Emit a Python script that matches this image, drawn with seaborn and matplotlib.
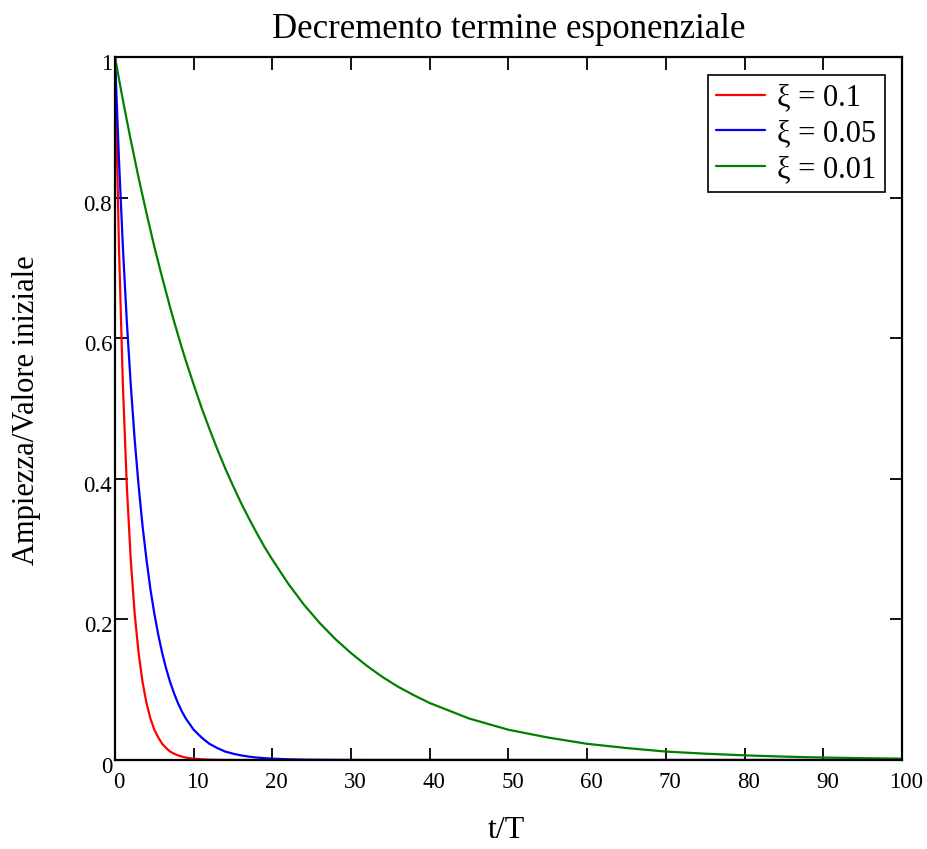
import numpy as np
import pandas as pd
import matplotlib
matplotlib.use("Agg")
import matplotlib.pyplot as plt
import matplotlib.transforms as mtransforms
import seaborn as sns

# Values read (estimated) from the reference
t_vals = [0, 0.5, 1, 1.5, 2, 2.5, 3, 3.5, 4, 4.5, 5, 5.5, 6, 6.5, 7, 7.5, 8, 8.5,
          9, 9.5, 10,
          11, 12, 13, 14, 15, 16, 17, 18, 19, 20,
          22, 24, 26, 28, 30, 32, 34, 36, 38, 40,
          45, 50, 55, 60, 65, 70, 75, 80, 85, 90, 95, 100]
red_vals = [1.000, 0.730, 0.534, 0.390, 0.285, 0.208, 0.152, 0.111, 0.081, 0.059,
            0.043, 0.032, 0.023, 0.017, 0.012, 0.009, 0.0066, 0.0048, 0.0035,
            0.0026, 0.0019,
            0.0010, 0.0005, 0.0003, 0.00015, 0.0001, 0.0, 0.0, 0.0, 0.0, 0.0,
            0.0, 0.0, 0.0, 0.0, 0.0, 0.0, 0.0, 0.0, 0.0, 0.0,
            0.0, 0.0, 0.0, 0.0, 0.0, 0.0, 0.0, 0.0, 0.0, 0.0, 0.0, 0.0]
blue_vals = [1.000, 0.855, 0.730, 0.624, 0.534, 0.456, 0.390, 0.333, 0.285, 0.243,
             0.208, 0.178, 0.152, 0.130, 0.111, 0.095, 0.081, 0.069, 0.059,
             0.051, 0.043,
             0.032, 0.023, 0.017, 0.012, 0.009, 0.0066, 0.0048, 0.0035, 0.0026, 0.0019,
             0.001, 0.0005, 0.0003, 0.00015, 0.0001, 0.0, 0.0, 0.0, 0.0, 0.0,
             0.0, 0.0, 0.0, 0.0, 0.0, 0.0, 0.0, 0.0, 0.0, 0.0, 0.0, 0.0]
green_vals = [1.000, 0.969, 0.939, 0.910, 0.882, 0.855, 0.828, 0.803, 0.778, 0.754,
              0.730, 0.708, 0.686, 0.665, 0.644, 0.624, 0.605, 0.586, 0.568,
              0.551, 0.534,
              0.501, 0.471, 0.442, 0.415, 0.390, 0.366, 0.344, 0.323, 0.303, 0.285,
              0.251, 0.221, 0.195, 0.172, 0.152, 0.134, 0.118, 0.104, 0.092, 0.081,
              0.059, 0.043, 0.032, 0.023, 0.017, 0.012, 0.009, 0.0066, 0.0048,
              0.0035, 0.0026, 0.0019]
series_labels = ["ξ = 0.1", "ξ = 0.05", "ξ = 0.01"]
x_ticks = [0, 10, 20, 30, 40, 50, 60, 70, 80, 90, 100]
y_ticks = [0, 0.2, 0.4, 0.6, 0.8, 1]
y_ticklabels = ["0", "0.2", "0.4", "0.6", "0.8", "1"]

df = pd.concat([
    pd.DataFrame({"t": t_vals, "y": vals, "serie": lab})
    for vals, lab in zip([red_vals, blue_vals, green_vals], series_labels)
])

sns.set_style("ticks")
plt.rcParams["font.family"] = ["Liberation Serif", "DejaVu Serif"]
plt.rcParams["text.color"] = "black"
plt.rcParams["axes.labelcolor"] = "black"

fig = plt.figure(figsize=(9.28, 8.49), dpi=100)
ax = fig.add_axes([115 / 928, 1 - 760 / 849, (902 - 115) / 928, (760 - 57) / 849])

sns.lineplot(data=df, x="t", y="y", hue="serie", hue_order=series_labels,
             palette=["#ff0000", "#0000ff", "#008000"], linewidth=1.6,
             ax=ax, sort=False)

ax.set_xlim(0, 100)
ax.set_ylim(0, 1)
ax.set_xticks(x_ticks)
ax.set_xticklabels([str(v) for v in x_ticks])
ax.set_yticks(y_ticks)
ax.set_yticklabels(y_ticklabels)
ax.tick_params(direction="in", length=9, width=1.3, top=True, right=True,
               labelsize=16.5, colors="black")
ax.tick_params(axis="x", pad=9)
ax.tick_params(axis="y", pad=2)
for s in ax.spines.values():
    s.set_visible(True)
    s.set_linewidth(1.6)
    s.set_color("black")

# small offsets of tick labels as in the reference
dx = mtransforms.ScaledTranslation(4 / 100, 0, fig.dpi_scale_trans)
for lab in ax.get_xticklabels():
    lab.set_transform(lab.get_transform() + dx)
dy = mtransforms.ScaledTranslation(0, -5 / 100, fig.dpi_scale_trans)
for lab in ax.get_yticklabels():
    lab.set_transform(lab.get_transform() + dy)

ax.set_title("Decremento termine esponenziale", fontsize=25, pad=14, color="black")
ax.set_xlabel("t/T", fontsize=23)
ax.xaxis.set_label_coords((506.5 - 115) / 787, (760 - 831) / 703)
ax.xaxis.label.set_va("center")
ax.set_ylabel("Ampiezza/Valore iniziale", fontsize=22)
ax.yaxis.set_label_coords((27 - 115) / 787, (760 - 410) / 703)
ax.yaxis.label.set_va("center")
ax.yaxis.label.set_ha("center")

leg = ax.legend(loc="upper right", bbox_to_anchor=((885 - 115) / 787, (760 - 75) / 703),
                fontsize=22, frameon=True, fancybox=False, framealpha=1,
                edgecolor="black", handlelength=1.6, handletextpad=0.4,
                borderpad=0.28, labelspacing=0.215, borderaxespad=0)
leg.get_frame().set_linewidth(1.2)
for line in leg.get_lines():
    line.set_linewidth(1.6)

fig.savefig("out.png", dpi=100)
